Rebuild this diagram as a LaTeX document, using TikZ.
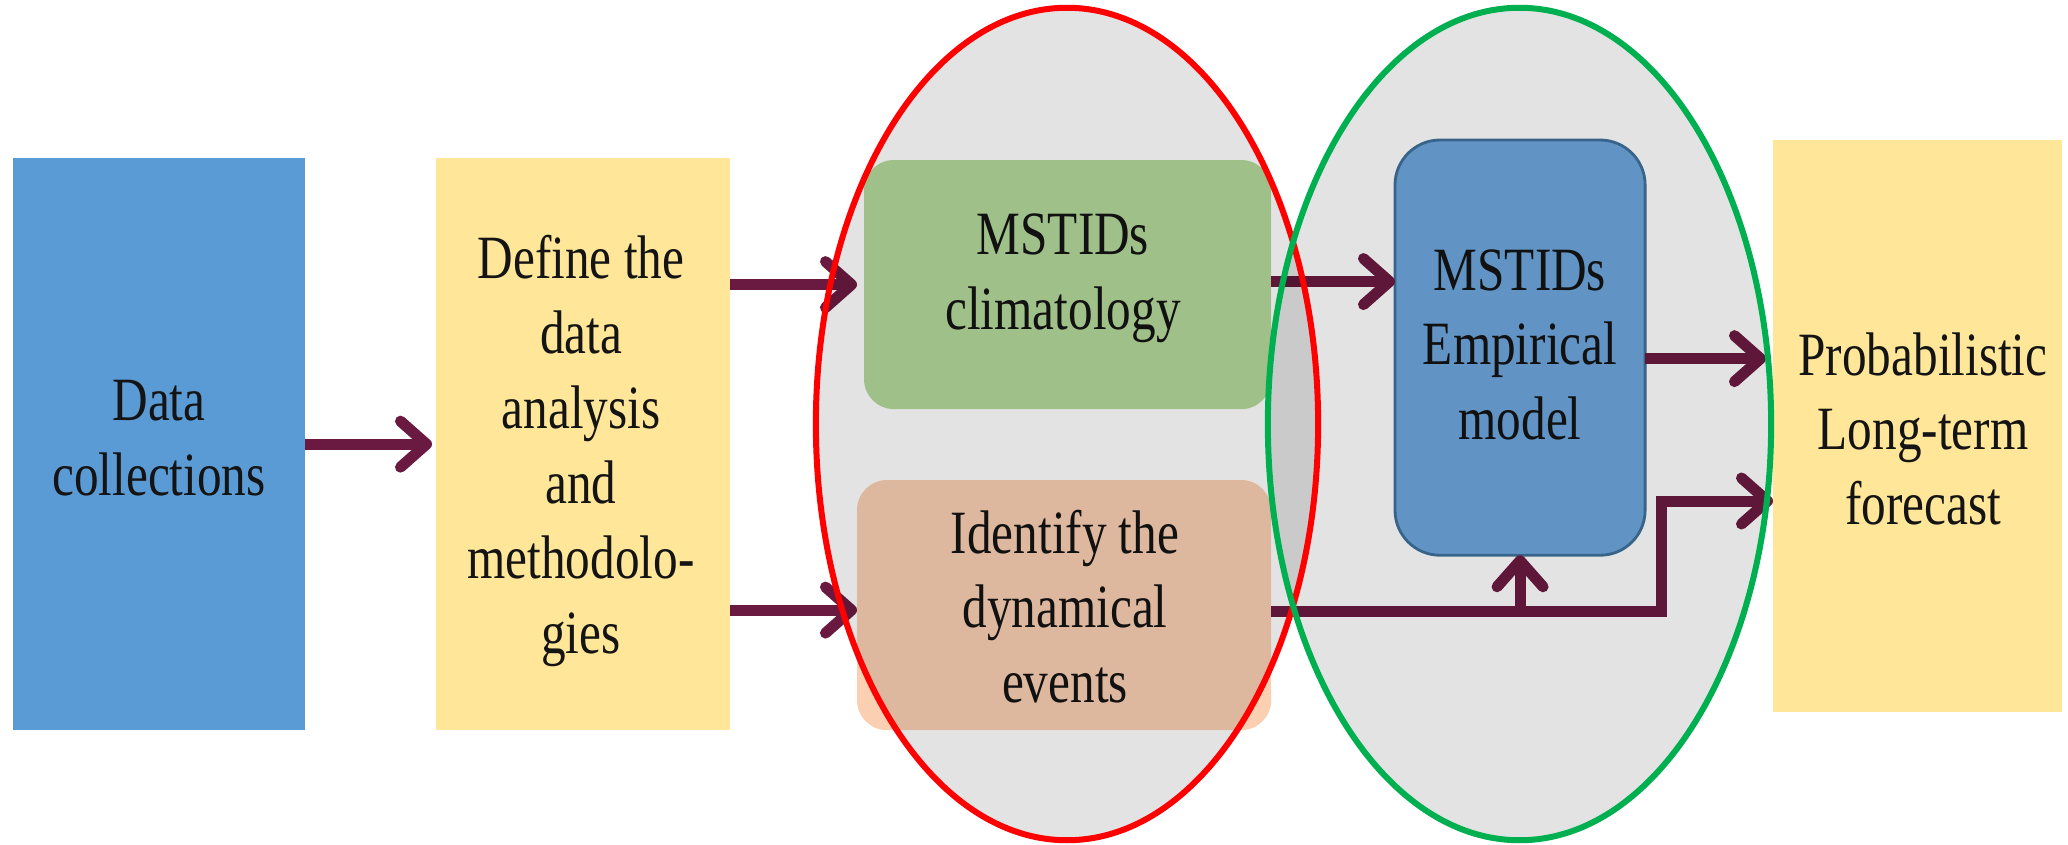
\documentclass[tikz,border=0pt]{standalone}
\usepackage{fontspec}
\setmainfont[FakeStretch=0.8]{Liberation Serif}
\usetikzlibrary{arrows.meta,calc}
\definecolor{dblue}{HTML}{5B9BD5}
\definecolor{dyellow}{HTML}{FFE699}
\definecolor{dgreen}{HTML}{B4D89B}
\definecolor{dorange}{HTML}{FACFB2}
\definecolor{dblueb}{HTML}{6DA7DD}
\definecolor{dborder}{HTML}{41719C}
\definecolor{arrcol}{HTML}{6A1A41}
\definecolor{ellred}{HTML}{FF0000}
\definecolor{ellgreen}{HTML}{00B050}
\definecolor{txt}{HTML}{141414}
\begin{document}
\begin{tikzpicture}[x=0.01cm,y=-0.01cm,
  box/.style={anchor=north west, inner sep=0, outer sep=0, draw=none},
  lbl/.style={align=center, inner sep=0, text=txt, font=\fontsize{17.5pt}{21.3pt}\selectfont},
  arr/.style={draw=arrcol, line width=0.11cm, -{Straight Barb[length=0.26cm,width=0.46cm,round]}},
  ell/.style={line width=0.06cm},
  shade/.style={fill=black, fill opacity=0.11},
]
\useasboundingbox (0,0) rectangle (2068,845);
% boxes
\node[box, fill=dblue, minimum width=2.92cm, minimum height=5.72cm] (data) at (13,158) {};
\node[box, fill=dyellow, minimum width=2.94cm, minimum height=5.72cm] (define) at (436,158) {};
\node[box, fill=dgreen, rounded corners=0.3cm, minimum width=4.07cm, minimum height=2.49cm] (clim) at (864,160) {};
\node[box, fill=dorange, rounded corners=0.3cm, minimum width=4.14cm, minimum height=2.50cm] (ident) at (857,480) {};
\node[box, fill=dblueb, draw=dborder, line width=0.8pt, rounded corners=0.45cm, minimum width=2.50cm, minimum height=4.15cm] (emp) at (1395,140) {};
\node[box, fill=dyellow, minimum width=2.89cm, minimum height=5.72cm] (fc) at (1773,140) {};
% labels
\node[lbl] (dataT) at (159,443) {\strut Data\\\strut collections};
\node[lbl] (defineT) at (581,451) {\strut Define the\\\strut data\\\strut analysis\\\strut and\\\strut methodolo-\\\strut gies};
\node[lbl] (climT) at (1063,277) {\strut MSTIDs\\\strut climatology};
\node[lbl] (identT) at (1065,613) {\strut Identify the\\\strut dynamical\\\strut events};
\node[lbl] (empT) at (1520,350) {\strut MSTIDs\\\strut Empirical\\\strut model};
\node[lbl] (fcT) at (1923,435) {\strut Probabilistic\\\strut Long-term\\\strut forecast};
% connectors
\draw[arr] (data.east) -- ($(define.west)+(-4,0)$);
\draw[arr] (define.east |- clim.west) -- ($(clim.west)+(-7,0)$);
\coordinate (d2) at ($(define.east |- ident.west)+(0,5)$);
\draw[arr] (d2) -- (d2 -| ident.west);
\coordinate (c1) at ($(clim.east)+(0,-3)$);
\draw[arr] (c1) -- (c1 -| emp.west);
\coordinate (e1) at ($(emp.east)+(0,11)$);
\draw[arr] (e1) -- ($(e1 -| fc.west)+(-7,0)$);
\coordinate (s1) at ($(ident.east)+(0,6)$);
\coordinate (bend) at (1661,501);
\draw[arr] (s1) -| (bend) -- (bend -| fc.west);
\coordinate (br) at (emp.south |- s1);
\draw[arr] (br) -- (emp.south);
% ellipses
\fill[shade] (1067,424) ellipse [x radius=2.51cm, y radius=4.16cm];
\fill[shade] (1519.5,424) ellipse [x radius=2.515cm, y radius=4.16cm];
\draw[ell, draw=ellred] (1067,424) ellipse [x radius=2.51cm, y radius=4.16cm];
\draw[ell, draw=ellgreen] (1519.5,424) ellipse [x radius=2.515cm, y radius=4.16cm];
\end{tikzpicture}
\end{document}
